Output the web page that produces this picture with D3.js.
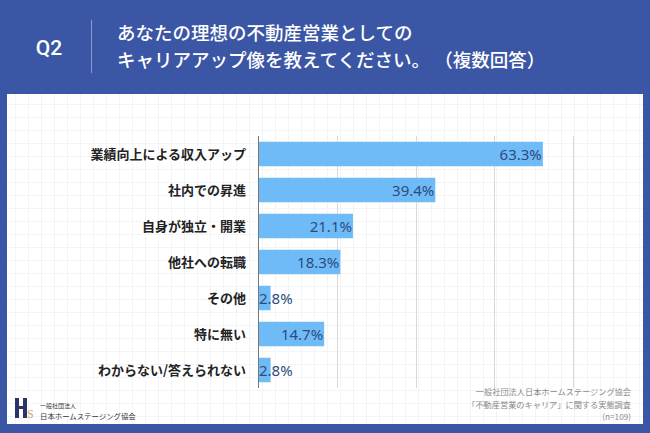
<!DOCTYPE html>
<html><head><meta charset="utf-8">
<script src="https://cdn.jsdelivr.net/npm/d3@7"></script>
<style>
body{margin:0;padding:0;background:#3b56a4;}
svg{display:block;font-family:"Noto Sans CJK JP","Noto Sans",sans-serif;}
</style></head>
<body>
<svg id="c" width="650" height="433"></svg>
<script>
const categories = ["業績向上による収入アップ","社内での昇進","自身が独立・開業","他社への転職","その他","特に無い","わからない/答えられない"];
const values = [63.3, 39.4, 21.1, 18.3, 2.8, 14.7, 2.8];
const tickValues = [0, 17.5, 35, 52.5, 70];
const titleLines = ["あなたの理想の不動産営業としての","キャリアアップ像を教えてください。 （複数回答）"];
const noteLines = ["一般社団法人日本ホームステージング協会","「不動産営業のキャリア」に関する実態調査","(n=109)"];

const svg = d3.select("#c");
svg.append("rect").attr("width",650).attr("height",433).attr("fill","#3b56a4");
svg.append("rect").attr("x",7).attr("y",94).attr("width",636).attr("height",330).attr("fill","#fff");

// faint graph paper pattern
const gp = svg.append("g").attr("stroke","#f3f4f6").attr("stroke-width",1);
for(let xx=15;xx<643;xx+=13){gp.append("line").attr("x1",xx+0.5).attr("x2",xx+0.5).attr("y1",94).attr("y2",424);}
for(let yy=104;yy<424;yy+=13){gp.append("line").attr("x1",7).attr("x2",643).attr("y1",yy+0.5).attr("y2",yy+0.5);}

// header
svg.append("text").attr("x",49).attr("y",55).attr("text-anchor","middle").attr("fill","#fff")
  .attr("font-size",21).attr("font-weight",500).attr("font-family","Roboto,'Noto Sans',sans-serif").text("Q2");
svg.append("line").attr("x1",91.5).attr("x2",91.5).attr("y1",20).attr("y2",73).attr("stroke","#8a9ccc").attr("stroke-width",1);
titleLines.forEach((t,i)=>{
  svg.append("text").attr("x",117).attr("y",40+i*27).attr("fill","#fff").attr("font-size",18.5).attr("font-weight",500).text(t);
});

const x = d3.scaleLinear().domain([0,70]).range([258,573]);
const y = d3.scaleBand().domain(categories).range([136,388]).paddingInner(0.32).paddingOuter(0.16);

// grid
svg.append("g").selectAll("line").data(tickValues.slice(1)).join("line")
  .attr("x1",d=>Math.round(x(d))+0.5).attr("x2",d=>Math.round(x(d))+0.5)
  .attr("y1",136).attr("y2",388).attr("stroke","#d8d8d8").attr("stroke-width",1);

// bars
svg.append("g").selectAll("rect").data(values).join("rect")
  .attr("x",x(0)).attr("y",(d,i)=>y(categories[i]))
  .attr("width",d=>x(d)-x(0)).attr("height",y.bandwidth())
  .attr("fill","#6fbbf7");

// axis line
svg.append("line").attr("x1",258.5).attr("x2",258.5).attr("y1",136).attr("y2",388).attr("stroke","#777").attr("stroke-width",1);

// category labels
svg.append("g").selectAll("text").data(categories).join("text")
  .attr("x",246).attr("y",d=>y(d)+y.bandwidth()/2+4.5).attr("text-anchor","end")
  .attr("font-size",13).attr("font-weight",700).attr("fill","#222").text(d=>d);

// value labels
svg.append("g").selectAll("text").data(values).join("text")
  .attr("x",d=> (x(d)-x(0)>40) ? x(d)-1 : x(0)+1)
  .attr("text-anchor",d=> (x(d)-x(0)>40) ? "end" : "start")
  .attr("y",(d,i)=>y(categories[i])+y.bandwidth()/2+5.5)
  .attr("font-size",15).attr("fill","#2b4c7e").attr("font-family","'Noto Sans',sans-serif")
  .text(d=>d.toFixed(1)+"%");

// note
noteLines.forEach((t,i)=>{
  svg.append("text").attr("x",631).attr("y",395+i*12.5).attr("text-anchor","end").attr("fill","#8a8a8a").attr("font-size",8.2).text(t);
});

// logo
const lg = svg.append("g");
lg.append("rect").attr("x",15).attr("y",398).attr("width",4).attr("height",20).attr("fill","#2a3566");
lg.append("rect").attr("x",23).attr("y",398).attr("width",4).attr("height",20).attr("fill","#2a3566");
lg.append("rect").attr("x",15).attr("y",406).attr("width",12).attr("height",3).attr("fill","#2a3566");
lg.append("text").attr("x",27).attr("y",418).attr("fill","#c9a86a").attr("font-size",12).attr("font-family","'Liberation Serif',serif").text("S");
lg.append("text").attr("x",40).attr("y",408).attr("fill","#333").attr("font-size",6).text("一般社団法人");
lg.append("text").attr("x",40).attr("y",419).attr("fill","#333").attr("font-size",7.4).text("日本ホームステージング協会");
</script>
</body></html>
